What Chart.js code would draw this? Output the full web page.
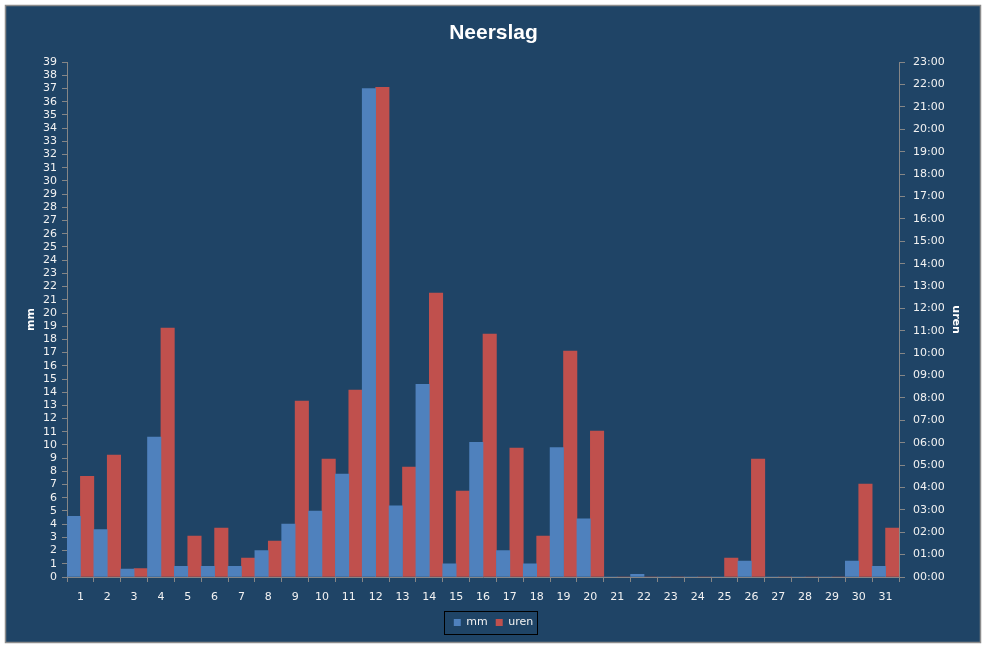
<!DOCTYPE html>
<html>
<head>
    <title>Neerslag</title>
    <script src="https://cdn.jsdelivr.net/npm/chart.js"></script>
    <style>
        body { margin: 0; background: #ffffff; }
        .chart-container { width: 987px; height: 648px; position: relative; }
    </style>
</head>
<body>
    <div class="chart-container">
        <canvas id="neerslag-chart"></canvas>
    </div>

    <script>
        // dagen van de maand
        const dagen = ['1','2','3','4','5','6','7','8','9','10','11','12','13','14','15','16',
                       '17','18','19','20','21','22','23','24','25','26','27','28','29','30','31'];

        // neerslag in mm per dag
        const mm = [4.6, 3.6, 0.6, 10.6, 0.8, 0.8, 0.8, 2.0, 4.0, 5.0, 7.8, 37.0, 5.4, 14.6, 1.0, 10.2,
                    2.0, 1.0, 9.8, 4.4, 0, 0.2, 0, 0, 0, 1.2, 0, 0, 0, 1.2, 0.8];

        // duur van de neerslag in uren (decimaal)
        const uren = [4.50, 5.45, 0.38, 11.12, 1.83, 2.19, 0.85, 1.60, 7.86, 5.27, 8.35, 21.88, 4.91, 12.68, 3.84, 10.85,
                      5.76, 1.83, 10.09, 6.52, 0, 0, 0, 0, 0.85, 5.27, 0, 0, 0, 4.15, 2.19];

        const asKleur = '#868686';
        const tekstKleur = '#f2f2f2';

        Chart.defaults.font.family = '"DejaVu Sans", sans-serif';
        Chart.defaults.font.size = 11;
        Chart.defaults.color = tekstKleur;

        // achtergrond met grijze rand
        const achtergrond = {
            id: 'achtergrond',
            beforeDraw(chart) {
                const ctx = chart.ctx;
                ctx.save();
                ctx.fillStyle = '#ffffff';
                ctx.fillRect(0, 0, chart.width, chart.height);
                ctx.fillStyle = '#1f4466';
                ctx.fillRect(5, 5, 975, 637);
                ctx.strokeStyle = '#8c8c8c';
                ctx.lineWidth = 1.5;
                ctx.strokeRect(5.5, 5.5, 975, 637);
                ctx.restore();
            }
        };

        // zwart kader rond de legenda
        const legendKader = {
            id: 'legendKader',
            afterDraw(chart) {
                const boxes = chart.legend.legendHitBoxes;
                if (!boxes || !boxes.length) return;
                const first = boxes[0];
                const last = boxes[boxes.length - 1];
                const x1 = Math.round(first.left - 10) + 0.5;
                const x2 = Math.round(last.left + last.width + 4) + 0.5;
                const y1 = Math.round(first.top - 6) + 0.5;
                const y2 = Math.round(first.top + first.height + 6) + 0.5;
                const ctx = chart.ctx;
                ctx.save();
                ctx.strokeStyle = '#000000';
                ctx.lineWidth = 1;
                ctx.strokeRect(x1, y1, x2 - x1, y2 - y1);
                ctx.restore();
            }
        };

        const ctx = document.getElementById('neerslag-chart').getContext('2d');
        new Chart(ctx, {
            type: 'bar',
            data: {
                labels: dagen,
                datasets: [
                    {
                        label: 'mm',
                        data: mm,
                        backgroundColor: '#4f81bd',
                        yAxisID: 'y'
                    },
                    {
                        label: 'uren',
                        data: uren,
                        backgroundColor: '#c0504d',
                        yAxisID: 'y2'
                    }
                ]
            },
            options: {
                responsive: true,
                maintainAspectRatio: false,
                animation: false,
                categoryPercentage: 1,
                barPercentage: 1,
                layout: { padding: { top: 0, left: 0, right: 0, bottom: 10 } },
                plugins: {
                    title: {
                        display: true,
                        text: 'Neerslag',
                        color: '#ffffff',
                        font: { family: '"Liberation Sans", sans-serif', size: 21, weight: 'bold' },
                        padding: { top: 21, bottom: 16 }
                    },
                    legend: {
                        position: 'bottom',
                        labels: {
                            boxWidth: 7,
                            boxHeight: 7,
                            padding: 8,
                            color: tekstKleur,
                            font: { size: 11 }
                        }
                    },
                    tooltip: { enabled: false }
                },
                scales: {
                    x: {
                        grid: { offset: true, drawOnChartArea: false, tickLength: 5, color: asKleur },
                        border: { color: asKleur },
                        ticks: { autoSkip: false, maxRotation: 0, padding: 9, color: tekstKleur },
                        afterFit(scale) { scale.height = 32; }
                    },
                    y: {
                        position: 'left',
                        min: 0,
                        max: 39,
                        grid: { drawOnChartArea: false, tickLength: 5, color: asKleur },
                        border: { color: asKleur },
                        ticks: { stepSize: 1, autoSkip: false, padding: 5, color: tekstKleur },
                        title: {
                            display: true,
                            text: 'mm',
                            color: '#ffffff',
                            font: { size: 11, weight: 'bold' },
                            padding: { top: 25, bottom: 0 }
                        },
                        afterFit(scale) { scale.width = 67; }
                    },
                    y2: {
                        position: 'right',
                        min: 0,
                        max: 23,
                        grid: { drawOnChartArea: false, tickLength: 6, color: asKleur },
                        border: { color: asKleur },
                        ticks: {
                            stepSize: 1,
                            autoSkip: false,
                            padding: 8,
                            color: tekstKleur,
                            callback: (v) => String(v).padStart(2, '0') + ':00'
                        },
                        title: {
                            display: true,
                            text: 'uren',
                            color: '#ffffff',
                            font: { size: 11, weight: 'bold' },
                            padding: { top: 25, bottom: 0 }
                        },
                        afterFit(scale) { scale.width = 88; }
                    }
                }
            },
            plugins: [achtergrond, legendKader]
        });
    </script>
</body>
</html>
